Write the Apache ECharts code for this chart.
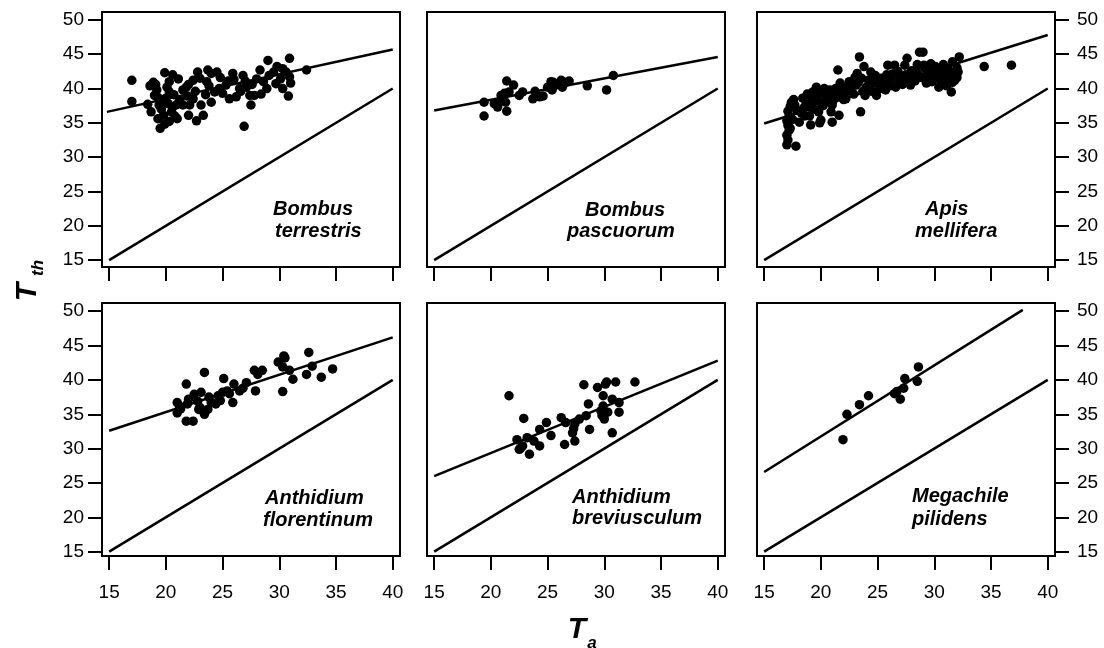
<!DOCTYPE html>
<html>
<head>
<meta charset="utf-8">
<style>html,body{margin:0;padding:0;background:#fff;}#c{width:1104px;height:648px;}</style>
<script src="https://cdn.jsdelivr.net/npm/echarts@6/dist/echarts.min.js"></script>
</head>
<body>
<div id="c"></div>
<script>
// ---------- data ----------
const species = [
  ['Bombus', 'terrestris'],
  ['Bombus', 'pascuorum'],
  ['Apis', 'mellifera'],
  ['Anthidium', 'florentinum'],
  ['Anthidium', 'breviusculum'],
  ['Megachile', 'pilidens']
];
const xTicks = [15, 20, 25, 30, 35, 40];
const yTicks = [15, 20, 25, 30, 35, 40, 45, 50];
const isoLine = [[15, 15], [40, 40]];

const bombusTerrestris = [
  [17.0,41.2],[17.0,38.1],[18.9,40.9],[19.9,42.3],[21.1,41.4],[19.2,39.8],[19.0,39.0],[19.5,38.1],[20.1,40.2],[20.3,39.5],
  [18.7,36.6],[19.3,35.6],[19.5,34.2],[20.3,35.2],[20.5,36.6],[20.9,37.6],[21.5,37.6],[22.0,36.1],[22.1,37.6],[21.8,40.2],
  [22.4,38.5],[23.1,37.6],[23.3,36.1],[22.4,41.2],[22.8,42.4],[23.0,41.5],[23.7,42.7],[24.0,42.2],[23.6,41.0],[24.3,39.5],
  [24.7,40.0],[25.3,40.5],[25.6,38.5],[25.9,42.2],[26.5,40.0],[26.8,41.9],[27.1,40.2],[27.4,39.0],[27.5,37.6],[27.8,39.0],
  [26.9,34.5],[28.3,42.7],[28.6,41.0],[29.0,44.1],[29.1,41.9],[29.7,40.7],[30.3,42.9],[30.6,42.4],[30.9,44.4],[30.9,41.7],
  [30.8,38.9],[32.4,42.7],[19.6,37.0],[20.0,38.6],[20.7,39.1],[19.8,36.1],[21.2,38.3],[20.3,41.0],[19.3,38.7],[21.0,35.6],
  [20.6,37.3],[22.6,39.6],[18.6,40.4],[19.9,34.8],[21.5,39.8],[23.5,39.1],[24.8,41.6],[25.5,41.1],[26.2,38.8],[27.0,41.1],
  [28.0,41.4],[29.5,42.4],[30.1,41.4],[22.0,40.6],[20.6,42.0],[19.4,37.6],[20.8,36.0],[21.9,38.9],[19.1,40.6],[20.2,37.8],
  [23.8,40.4],[24.5,42.4],[25.0,39.3],[26.0,41.3],[27.6,40.6],[28.9,40.0],[29.8,43.2],[31.0,40.8],[18.4,37.7],[22.7,35.3],
  [24.0,38.0],[26.6,39.6],[28.4,39.2],[30.3,40.0]
];
const bombusPascuorum = [
  [19.4,38.0],[19.4,36.0],[20.3,37.8],[20.6,37.3],[20.9,39.0],[21.1,38.6],[21.2,39.3],[21.0,38.4],[21.4,36.7],[21.4,41.1],
  [22.0,40.5],[22.5,39.0],[22.8,39.5],[23.7,38.5],[23.9,39.6],[24.3,38.8],[24.6,38.9],[25.3,41.0],[25.4,39.8],[25.7,40.5],
  [26.2,41.2],[26.3,40.2],[26.9,41.1],[28.5,40.4],[30.2,39.8],[30.8,41.9],[20.9,38.2],[21.6,39.5],[25.0,40.2],[25.9,40.7],
  [26.6,40.9],[21.3,38.0],[25.5,40.9]
];
const apisMellifera = [
  [17.0,31.8],[17.1,32.5],[17.0,33.2],[17.2,33.9],[17.1,34.6],[17.0,35.3],[17.2,36.0],[17.1,36.7],[17.3,37.4],[17.4,38.0],
  [17.6,38.4],[17.8,31.6],[17.5,35.5],[17.3,34.2],[17.9,36.8],[17.7,37.6],
  [18.1,35.1],[18.3,36.4],[18.5,37.2],[18.7,37.8],[18.9,38.5],[19.0,36.0],[19.1,34.7],[19.3,39.5],[19.4,37.0],[19.6,40.2],
  [19.7,38.2],[19.8,36.6],[19.9,35.0],[18.4,38.6],[18.8,39.2],[19.2,38.0],[19.5,39.0],[19.9,39.5],[18.6,36.0],[19.0,37.3],
  [20.0,35.4],[20.2,37.5],[20.4,38.1],[20.5,39.0],[20.7,39.3],[20.9,36.6],[21.0,35.1],[21.1,38.3],[21.3,40.0],[21.5,42.7],
  [21.6,36.1],[21.8,40.2],[21.9,39.1],[20.3,40.0],[20.6,38.5],[21.2,39.5],[21.4,38.8],[22.0,38.4],[20.8,39.8],[21.7,40.8],
  [20.1,39.2],[21.0,37.6],
  [22.2,38.5],[22.4,39.7],[22.6,39.8],[22.8,40.6],[23.1,40.5],[23.2,42.2],[23.4,44.6],[23.5,36.6],[23.8,43.2],[23.9,39.0],
  [22.5,41.0],[22.9,39.2],[23.3,40.9],[23.6,41.5],[24.0,40.2],[22.3,40.2],[23.0,41.6],[23.7,39.6],
  [24.4,42.4],[24.6,40.8],[24.9,39.0],[25.0,41.0],[25.3,41.5],[25.5,40.3],[25.7,39.8],[25.9,43.4],[24.2,41.2],[24.8,41.9],
  [25.2,40.0],[25.6,41.2],[26.0,40.8],[24.5,39.6],[25.8,42.0],
  [26.2,41.5],[26.5,43.4],[26.6,40.2],[26.9,41.0],[27.1,41.7],[27.4,43.4],[27.6,44.4],[27.9,40.5],[26.3,42.1],[26.8,42.5],
  [27.2,40.6],[27.5,42.0],[27.8,41.4],[28.0,42.6],[26.1,40.4],[27.0,41.8],
  [28.2,41.9],[28.4,42.8],[28.7,45.3],[29.0,45.3],[29.1,43.4],[29.4,41.5],[29.6,42.2],[29.85,42.4],[28.3,41.1],[28.6,42.0],
  [28.9,41.6],[29.2,42.9],[29.5,43.0],[29.8,41.0],[30.0,42.6],[28.5,43.5],[29.3,40.8],[29.7,43.6],
  [30.1,43.2],[30.2,41.6],[30.4,40.2],[30.5,42.4],[30.7,41.9],[30.9,42.8],[31.0,41.2],[31.2,42.9],[31.3,41.7],[31.5,39.5],
  [31.6,43.9],[31.7,42.3],[31.9,41.9],[32.0,43.0],[32.2,44.6],[30.3,42.9],[30.8,43.5],[31.4,42.0],[31.8,41.2],[32.1,42.4],
  [30.6,41.0],[31.1,40.4],[31.6,40.9],[32.0,41.6],
  [34.4,43.2],[36.8,43.4]
];
const anthidiumFlorentinum = [
  [21.0,36.7],[21.0,35.2],[21.8,39.4],[21.9,36.5],[21.8,34.0],[22.4,34.0],[22.5,37.9],[22.8,36.9],[23.1,38.2],[23.4,41.1],
  [22.9,35.7],[23.4,35.0],[23.7,35.7],[24.0,36.7],[24.4,36.5],[24.6,37.7],[25.0,38.2],[25.1,40.2],[25.4,38.4],[25.9,36.7],
  [26.0,39.4],[26.5,38.4],[27.1,39.6],[27.8,41.4],[27.9,38.4],[28.1,40.8],[28.5,41.4],[30.3,41.9],[30.4,43.5],[30.3,38.3],
  [30.9,41.4],[31.2,40.1],[32.4,40.8],[32.6,44.0],[32.9,42.0],[33.7,40.4],[34.7,41.6],[21.3,35.8],[22.0,37.2],[23.8,37.5],
  [24.8,37.0],[26.8,38.8],[29.9,42.6],[30.5,43.2],[21.2,36.2],[23.0,36.0],[25.6,38.0]
];
const anthidiumBreviusculum = [
  [21.6,37.7],[22.9,34.4],[22.3,31.3],[22.5,29.9],[22.8,30.4],[23.2,31.6],[23.4,29.2],[23.8,31.1],[24.3,30.4],[24.3,32.8],
  [24.9,33.8],[25.3,31.9],[26.2,34.5],[26.5,30.6],[26.6,33.8],[27.2,32.3],[27.4,33.6],[27.4,31.1],[27.8,34.3],[28.2,39.3],
  [28.4,34.8],[28.6,36.5],[28.7,32.8],[29.4,38.9],[29.7,35.5],[29.8,34.8],[29.9,36.2],[29.9,37.7],[30.0,34.3],[30.1,39.4],
  [30.2,39.7],[30.3,35.3],[30.7,37.2],[30.7,32.3],[31.0,39.7],[31.3,36.7],[31.3,35.3],[32.7,39.7],[22.6,30.0],[27.3,32.9]
];
const megachilePilidens = [
  [21.95,31.3],[22.3,35.0],[23.4,36.4],[24.2,37.7],[26.5,38.0],[27.0,37.2],[27.3,38.8],[27.4,40.2],[28.5,39.8],[28.6,41.9],
  [26.7,38.3]
];
const points = [bombusTerrestris, bombusPascuorum, apisMellifera, anthidiumFlorentinum, anthidiumBreviusculum, megachilePilidens];
const fitLines = [
  [[14.8,36.6],[40,45.7]],
  [[15,36.8],[40,44.6]],
  [[15,34.9],[40,47.8]],
  [[15,32.6],[40,46.2]],
  [[15,26.0],[40,42.8]],
  [[15,26.6],[37.8,50.2]]
];

// ---------- layout ----------
const FONT = '"Liberation Sans", Arial, Helvetica, sans-serif';
const colLeft = [102, 427, 757];
const colWidth = 298;
const rowTop = [12, 303];
const rowHeight = [255, 253];
const xRange = [14.37, 40.64];
const yRange = [[14.0, 51.15], [14.37, 51.2]];
const labelPos = [
  [[273, 209], [275, 231]],
  [[585, 210], [567, 231]],
  [[925, 209], [915, 231]],
  [[265, 498], [263, 520]],
  [[572, 497], [572, 518]],
  [[912, 496], [912, 519]]
];

const grids = [], xAxes = [], yAxes = [], series = [], graphics = [];
for (let i = 0; i < 6; i++) {
  const r = Math.floor(i / 3), c = i % 3;
  grids.push({left: colLeft[c], top: rowTop[r], width: colWidth, height: rowHeight[r],
    show: true, borderColor: '#000', borderWidth: 2, backgroundColor: 'transparent'});
  xAxes.push({
    gridIndex: i, type: 'value', min: xRange[0], max: xRange[1],
    axisLine: {show: false, onZero: false},
    splitLine: {show: false},
    axisTick: {show: true, length: 14, lineStyle: {color: '#000', width: 2}, customValues: xTicks},
    axisLabel: {show: r === 1, customValues: xTicks, margin: 27, color: '#000', fontSize: 19, fontFamily: FONT}
  });
  const yShow = c !== 1;
  yAxes.push({
    gridIndex: i, type: 'value', min: yRange[r][0], max: yRange[r][1],
    position: c === 2 ? 'right' : 'left',
    axisLine: {show: false, onZero: false},
    splitLine: {show: false},
    axisTick: {show: yShow, length: 14, lineStyle: {color: '#000', width: 2}, customValues: yTicks},
    axisLabel: {show: yShow, customValues: yTicks, margin: c === 2 ? 22 : 18, color: '#000', fontSize: 19, fontFamily: FONT}
  });
  series.push({type: 'line', xAxisIndex: i, yAxisIndex: i, data: isoLine, showSymbol: false, silent: true,
    lineStyle: {color: '#000', width: 2.5}});
  series.push({type: 'line', xAxisIndex: i, yAxisIndex: i, data: fitLines[i], showSymbol: false, silent: true,
    lineStyle: {color: '#000', width: 2.5}});
  series.push({type: 'scatter', xAxisIndex: i, yAxisIndex: i, data: points[i], symbol: 'circle', symbolSize: 9.5,
    itemStyle: {color: '#000', opacity: 1}, silent: true});
  for (let k = 0; k < 2; k++) {
    graphics.push({type: 'text', x: labelPos[i][k][0], y: labelPos[i][k][1],
      style: {text: species[i][k], fill: '#000', font: 'italic bold 20px ' + FONT, textAlign: 'left', textVerticalAlign: 'middle'}});
  }
}
// axis titles
graphics.push({type: 'text', x: 28, y: 292, rotation: Math.PI / 2,
  style: {text: 'T', fill: '#000', font: 'italic bold 30px ' + FONT, textAlign: 'center', textVerticalAlign: 'middle'}});
graphics.push({type: 'text', x: 38, y: 268, rotation: Math.PI / 2,
  style: {text: 'th', fill: '#000', font: 'italic bold 17px ' + FONT, textAlign: 'center', textVerticalAlign: 'middle'}});
graphics.push({type: 'text', x: 577, y: 630,
  style: {text: 'T', fill: '#000', font: 'italic bold 30px ' + FONT, textAlign: 'center', textVerticalAlign: 'middle'}});
graphics.push({type: 'text', x: 592, y: 643,
  style: {text: 'a', fill: '#000', font: 'italic bold 17px ' + FONT, textAlign: 'center', textVerticalAlign: 'middle'}});

const chart = echarts.init(document.getElementById('c'), null, {renderer: 'canvas'});
chart.setOption({
  animation: false,
  backgroundColor: '#fff',
  grid: grids, xAxis: xAxes, yAxis: yAxes, series: series, graphic: graphics
});
</script>
</body>
</html>
